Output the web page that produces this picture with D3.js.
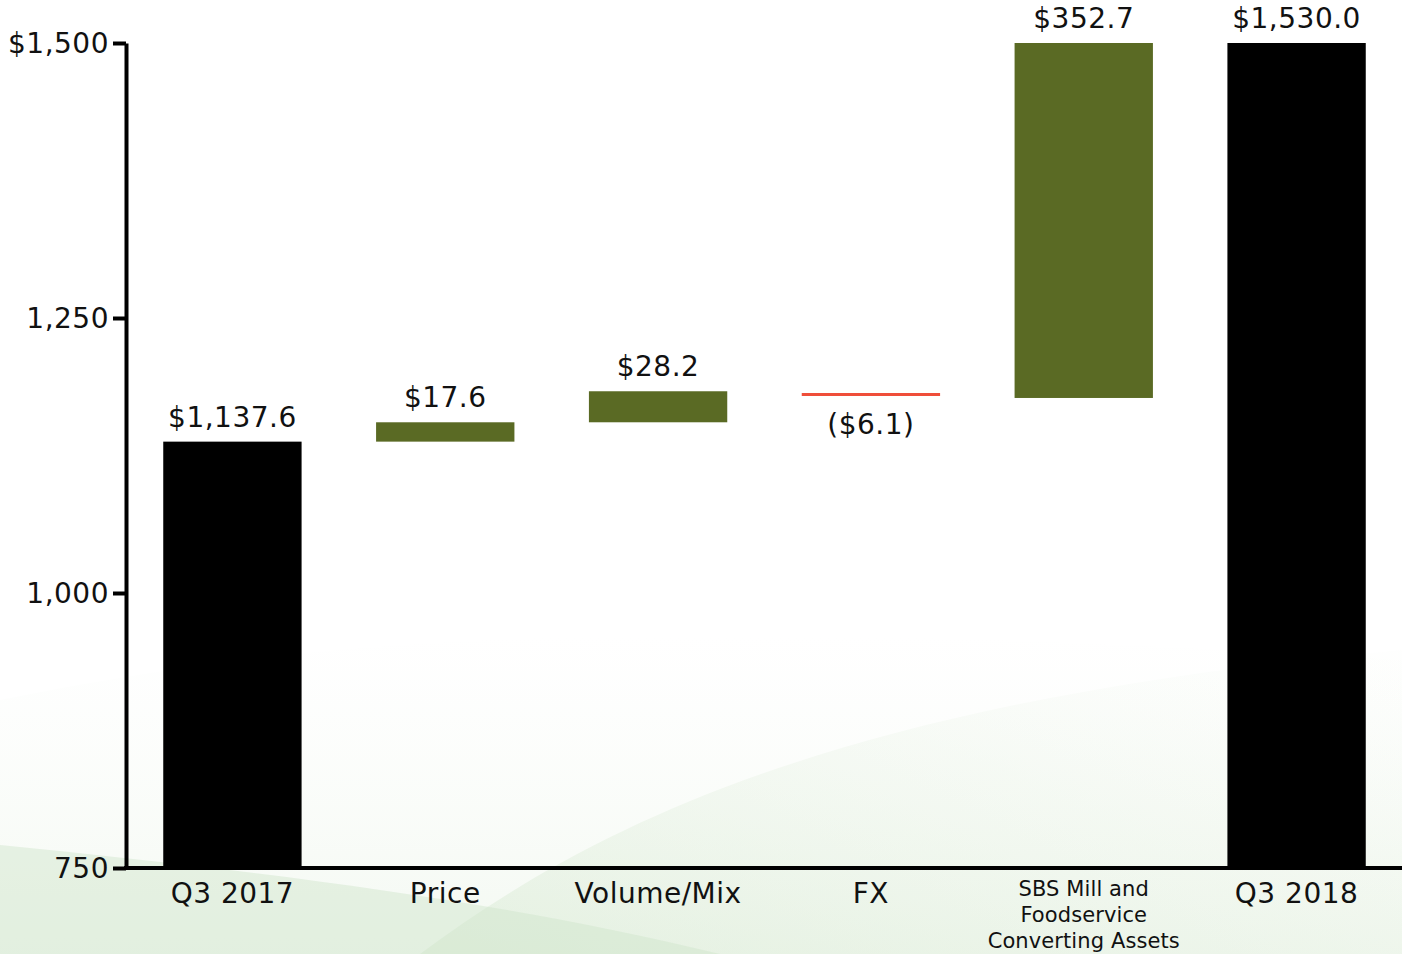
<!DOCTYPE html>
<meta charset="utf-8">
<head>
  <script src="https://cdn.jsdelivr.net/npm/d3@7/dist/d3.min.js"></script>
</head>
<style type="text/css">
  body {
    margin: 0;
    background: #fff;
  }
  svg text {
    font-family: "DejaVu Sans", Verdana, sans-serif;
    fill: #111;
  }
  .axis path, .axis line {
    stroke: #000;
    stroke-width: 4px;
  }
  .axis text {
    font-size: 28px;
    letter-spacing: 0.5px;
  }
  .cat { font-size: 28px; letter-spacing: 0.5px; }
  .cat.small { font-size: 21px; letter-spacing: 0.1px; }
  .val { font-size: 28px; letter-spacing: 0.5px; }
</style>
<body></body>
<script type="text/javascript">

var width = 1402,
    height = 954;

// waterfall data
var categories = ["Q3 2017", "Price", "Volume/Mix", "FX", "SBS Mill and Foodservice Converting Assets", "Q3 2018"];
var catLines = [["Q3 2017"], ["Price"], ["Volume/Mix"], ["FX"], ["SBS Mill and", "Foodservice", "Converting Assets"], ["Q3 2018"]];
var amounts = [1137.6, 17.6, 28.2, -6.1, 352.7, 1530.0];
var kinds = ["total", "delta", "delta", "delta", "delta", "total"];
var yTicks = [750, 1000, 1250, 1500];

var green = "#5a6a24",
    red = "#ef4e3a";

var margin = {top: 43, right: 0, bottom: 86, left: 126};

var svg = d3.select("body").append("svg")
    .attr("width", width)
    .attr("height", height);

// faint green swoosh in the background
var defs = svg.append("defs");
var g1 = defs.append("linearGradient").attr("id", "sw1")
    .attr("x1", 0).attr("y1", 1).attr("x2", 1).attr("y2", 0);
g1.append("stop").attr("offset", "0%").attr("stop-color", "#c9e2c2").attr("stop-opacity", 0.75);
g1.append("stop").attr("offset", "60%").attr("stop-color", "#e4f0e0").attr("stop-opacity", 0.5);
g1.append("stop").attr("offset", "100%").attr("stop-color", "#f4f9f2").attr("stop-opacity", 0.15);
var g2 = defs.append("linearGradient").attr("id", "sw2")
    .attr("x1", 0).attr("y1", 0).attr("x2", 0).attr("y2", 1);
g2.append("stop").attr("offset", "0%").attr("stop-color", "#e6f1e2").attr("stop-opacity", 0);
g2.append("stop").attr("offset", "100%").attr("stop-color", "#d3e7cd").attr("stop-opacity", 0.9);

svg.append("path")
    .attr("d", "M0,954 L0,700 C300,640 600,610 1402,660 L1402,954 Z")
    .attr("fill", "url(#sw2)")
    .attr("opacity", 0.3);
svg.append("path")
    .attr("d", "M420,954 C600,820 850,700 1402,650 L1402,954 Z")
    .attr("fill", "url(#sw1)")
    .attr("opacity", 0.5);
svg.append("path")
    .attr("d", "M0,845 C250,870 500,900 720,954 L0,954 Z")
    .attr("fill", "#cfe4c9")
    .attr("opacity", 0.45);

var x = d3.scaleBand()
    .domain(categories)
    .range([margin.left, width + 1])
    .paddingInner(0.35)
    .paddingOuter(0.175);

var y = d3.scaleLinear()
    .domain([750, 1500])
    .range([height - margin.bottom, margin.top]);

// running totals
var rows = [];
var run = 0;
categories.forEach(function(c, i) {
  var start, end;
  if (kinds[i] == "total") {
    start = 750; end = amounts[i]; run = amounts[i];
  } else {
    start = run; end = run + amounts[i]; run = end;
  }
  rows.push({cat: c, value: amounts[i], kind: kinds[i], start: start, end: end});
});

defs.append("clipPath").attr("id", "plot")
  .append("rect")
    .attr("x", margin.left)
    .attr("y", y(1500))
    .attr("width", width - margin.left)
    .attr("height", y(750) - y(1500));

var fmt = d3.format("($,.1f");

var bars = svg.append("g").attr("clip-path", "url(#plot)");

bars.selectAll("rect")
    .data(rows.filter(function(d) { return d.value >= 0; }))
  .enter().append("rect")
    .attr("x", function(d) { return x(d.cat); })
    .attr("width", x.bandwidth())
    .attr("y", function(d) { return y(Math.max(d.start, d.end)); })
    .attr("height", function(d) { return Math.abs(y(d.start) - y(d.end)); })
    .style("fill", function(d) { return d.kind == "total" ? "#000" : green; });

// negative moves drawn as a thin red rule
bars.selectAll("line.neg")
    .data(rows.filter(function(d) { return d.value < 0; }))
  .enter().append("line")
    .attr("class", "neg")
    .attr("x1", function(d) { return x(d.cat); })
    .attr("x2", function(d) { return x(d.cat) + x.bandwidth(); })
    .attr("y1", function(d) { return y((d.start + d.end) / 2); })
    .attr("y2", function(d) { return y((d.start + d.end) / 2); })
    .style("stroke", red)
    .style("stroke-width", 3);

// value labels
svg.selectAll("text.val")
    .data(rows)
  .enter().append("text")
    .attr("class", "val")
    .attr("text-anchor", "middle")
    .attr("x", function(d) { return x(d.cat) + x.bandwidth() / 2; })
    .attr("y", function(d) {
      if (d.value < 0) return y(Math.min(d.start, d.end)) + 36;
      var top = Math.min(1500, Math.max(d.start, d.end));
      return y(top) - 15;
    })
    .text(function(d) { return fmt(d.value); });

// y axis
var yAxis = d3.axisLeft(y)
    .tickValues(yTicks)
    .tickSize(13)
    .tickSizeOuter(0)
    .tickPadding(4)
    .tickFormat(function(d) { return d == 1500 ? "$" + d3.format(",")(d) : d3.format(",")(d); });

svg.append("g")
    .attr("class", "axis")
    .attr("transform", "translate(" + margin.left + ",0)")
    .call(yAxis)
    .call(function(g) { g.selectAll("text").attr("dy", "0.35em"); });

// x axis baseline
svg.append("line")
    .attr("x1", margin.left - 2)
    .attr("x2", width)
    .attr("y1", y(750))
    .attr("y2", y(750))
    .style("stroke", "#000")
    .style("stroke-width", 4);

// category labels
var cats = svg.selectAll("text.cat")
    .data(rows)
  .enter().append("text")
    .attr("class", function(d, i) { return catLines[i].length > 1 ? "cat small" : "cat"; })
    .attr("text-anchor", "middle")
    .attr("x", function(d) { return x(d.cat) + x.bandwidth() / 2; })
    .attr("y", function(d, i) { return catLines[i].length > 1 ? y(750) + 28 : y(750) + 35; });

cats.each(function(d, i) {
  var t = d3.select(this);
  catLines[i].forEach(function(line, j) {
    t.append("tspan")
      .attr("x", x(d.cat) + x.bandwidth() / 2)
      .attr("dy", j == 0 ? 0 : 26)
      .text(line);
  });
});

</script>
</html>
